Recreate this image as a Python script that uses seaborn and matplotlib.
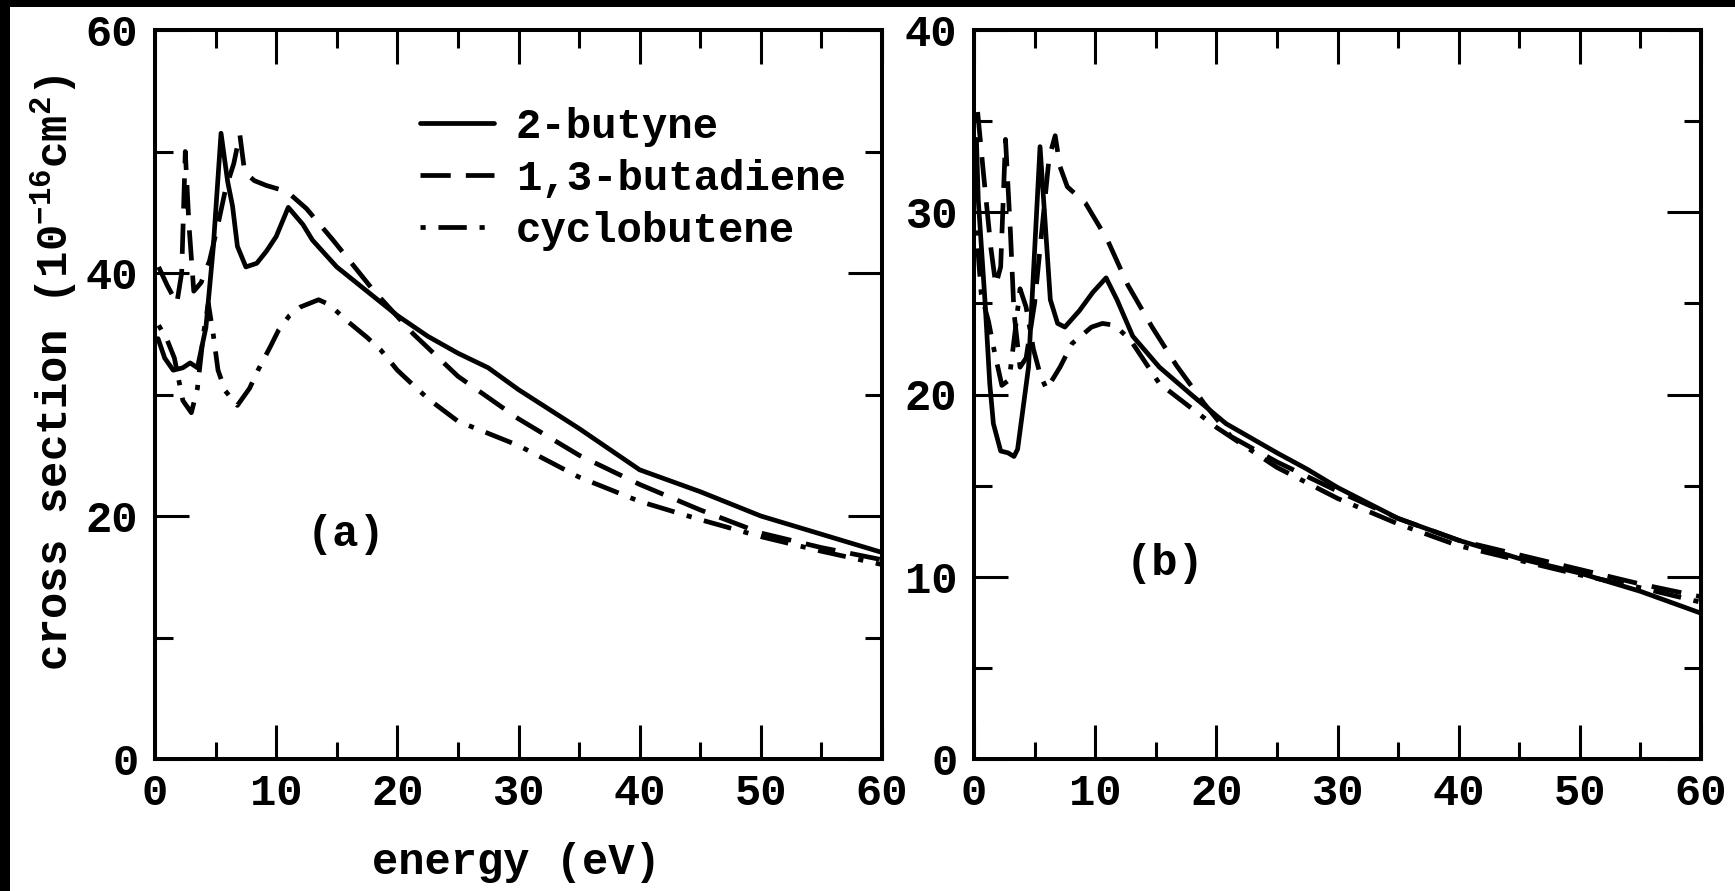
import numpy as np
import pandas as pd
import matplotlib
matplotlib.use("Agg")
import matplotlib.pyplot as plt
from matplotlib.ticker import MultipleLocator
from matplotlib.patches import Rectangle
import seaborn as sns

# ---- panel (a) data ----
a_butyne_x = [0.25, 0.8, 1.5, 2.3, 2.9, 3.5, 4.2, 4.8, 5.45, 6.0, 6.4, 6.8, 7.5, 8.4, 9.2,
              10.0, 11.0, 12.2, 13.0, 15, 17.5, 20, 22.5, 25, 27.5, 30, 35, 40, 45, 50, 55, 60]
a_butyne_y = [34.6, 33.0, 32.0, 32.2, 32.6, 32.2, 35.5, 42.0, 51.5, 47.5, 45.5, 42.2, 40.5, 40.8, 41.8,
              43.0, 45.4, 44.0, 42.7, 40.5, 38.5, 36.5, 34.8, 33.4, 32.2, 30.4, 27.2, 23.8, 22.0, 20.0, 18.5, 17.0]

a_butadiene_x = [0.3, 1.0, 1.8, 2.2, 2.5, 2.8, 3.2, 3.8, 4.5, 5.2, 5.8, 6.5, 7.0, 7.4, 8.2, 9.2,
                 10.9, 12.5, 14.7, 18, 21.3, 25, 30, 35, 40, 45, 50, 55, 60]
a_butadiene_y = [40.5, 39.0, 37.5, 40.0, 50.0, 44.0, 38.5, 39.2, 41.0, 44.0, 46.8, 49.0, 51.4, 48.3, 47.6, 47.2,
                 46.7, 45.3, 42.7, 38.6, 35.0, 31.5, 28.0, 25.0, 22.6, 20.5, 18.6, 17.4, 16.4]

a_cyclo_x = [0.3, 1.0, 1.6, 2.3, 3.0, 3.5, 4.0, 4.4, 4.8, 5.2, 5.8, 6.8, 7.8, 8.5, 9.5, 10.2,
             11.1, 12.0, 13.5, 14.4, 15.8, 17.5, 18.6, 20, 21.5, 22.6, 25, 30, 35, 40, 45, 50, 55, 60]
a_cyclo_y = [35.7, 34.5, 33.0, 29.5, 28.5, 30.5, 35.0, 37.5, 35.0, 32.0, 30.3, 29.1, 30.5, 32.0, 33.9, 35.3,
             36.5, 37.2, 37.8, 37.4, 36.1, 34.7, 33.7, 32.0, 30.6, 29.6, 27.8, 25.8, 23.2, 21.2, 19.7, 18.3, 17.1, 16.0]

# ---- panel (b) data ----
b_butyne_x = [0.2, 0.35, 0.9, 1.3, 1.6, 2.2, 2.8, 3.3, 3.6, 4.5, 5.45, 6.3, 6.9, 7.5, 8.7, 9.8,
              10.9, 11.8, 13.1, 15.3, 18.1, 20.8, 25, 27.5, 30, 35, 40, 45, 50, 55, 60]
b_butyne_y = [34.0, 30.7, 25.2, 20.6, 18.4, 16.9, 16.8, 16.6, 17.0, 21.5, 33.6, 25.2, 23.9, 23.7, 24.6, 25.6,
              26.4, 25.2, 23.2, 21.5, 19.9, 18.4, 16.8, 15.9, 14.9, 13.2, 12.0, 11.0, 10.2, 9.2, 8.0]

b_butadiene_x = [0.3, 0.8, 1.4, 1.8, 2.2, 2.6, 3.0, 3.3, 3.8, 4.3, 5.0, 5.6, 6.2, 6.7, 7.1, 7.7,
                 9.2, 11.0, 12.7, 14.7, 16.7, 19.0, 21.2, 25, 30, 35, 40, 45, 50, 55, 60]
b_butadiene_y = [35.5, 32.0, 28.0, 26.0, 27.0, 34.0, 29.0, 24.5, 21.5, 22.0, 25.0, 29.0, 33.0, 34.2, 32.5, 31.4,
                 30.5, 28.5, 26.0, 23.7, 21.6, 19.5, 17.7, 16.3, 14.7, 13.2, 12.0, 11.2, 10.4, 9.6, 8.9]

b_cyclo_x = [0.2, 0.6, 1.2, 1.7, 2.3, 2.9, 3.4, 3.8, 4.3, 4.9, 5.5, 6.0, 7.1, 8.1, 9.7, 10.6,
             11.6, 12.9, 14.0, 15.3, 20, 25, 30, 35, 40, 45, 50, 55, 60]
b_cyclo_y = [29.0, 25.5, 24.0, 22.3, 20.5, 20.8, 23.5, 25.8, 24.8, 22.5, 21.0, 20.3, 21.5, 22.8, 23.7, 23.9,
             23.8, 23.0, 21.9, 20.6, 18.2, 16.0, 14.3, 12.9, 11.7, 10.9, 10.1, 9.4, 8.6]

molecules = ["2-butyne", "1,3-butadiene", "cyclobutene"]
x_ticks = [0, 10, 20, 30, 40, 50, 60]
ya_ticks = [0, 20, 40, 60]
yb_ticks = [0, 10, 20, 30, 40]


def frame(xs, ys):
    parts = []
    for name, x, y in zip(molecules, xs, ys):
        parts.append(pd.DataFrame({"energy": x, "cs": y, "molecule": name}))
    return pd.concat(parts, ignore_index=True)


df_a = frame([a_butyne_x, a_butadiene_x, a_cyclo_x], [a_butyne_y, a_butadiene_y, a_cyclo_y])
df_b = frame([b_butyne_x, b_butadiene_x, b_cyclo_x], [b_butyne_y, b_butadiene_y, b_cyclo_y])

FS = 31.5
LEG_FS = 30.5

sns.set_theme(style="ticks")
plt.rcParams.update({
    "font.family": ["Liberation Mono", "DejaVu Sans Mono"],
    "font.weight": "bold",
    "axes.labelweight": "bold",
    "font.size": FS,
    "text.color": "black",
    "axes.labelcolor": "black",
    "xtick.color": "black",
    "ytick.color": "black",
    "mathtext.fontset": "custom",
    "mathtext.rm": "Liberation Mono:bold",
    "mathtext.it": "Liberation Mono:bold",
    "mathtext.bf": "Liberation Mono:bold",
    "mathtext.default": "rm",
    "axes.edgecolor": "black",
    "axes.linewidth": 2.9,
})

fig = plt.figure(figsize=(17.35, 8.91), dpi=100, facecolor="white")
ax_a = fig.add_axes([155 / 1735, 132 / 891, 727 / 1735, 729 / 891])
ax_b = fig.add_axes([974 / 1735, 132 / 891, 727 / 1735, 729 / 891])

palette = {m: "black" for m in molecules}
dashes = {"2-butyne": "", "1,3-butadiene": (6.4, 3.2), "cyclobutene": (1.1, 2.7, 6.0, 2.7)}

for ax, df in ((ax_a, df_a), (ax_b, df_b)):
    sns.lineplot(data=df, x="energy", y="cs", hue="molecule", style="molecule",
                 hue_order=molecules, style_order=molecules, palette=palette,
                 dashes=dashes, linewidth=3.4, estimator=None, sort=False,
                 legend=False, ax=ax)

for ax, ymax, yticks, ymin_step in ((ax_a, 60, ya_ticks, 10), (ax_b, 40, yb_ticks, 5)):
    ax.set_xlim(0, 60)
    ax.set_ylim(0, ymax)
    ax.set_xticks(x_ticks)
    ax.set_yticks(yticks)
    ax.xaxis.set_minor_locator(MultipleLocator(5))
    ax.yaxis.set_minor_locator(MultipleLocator(ymin_step))
    ax.tick_params(which="both", direction="in", top=True, right=True, color="black",
                   width=2.2, labelsize=FS, labelcolor="black")
    ax.tick_params(which="major", length=24.5)
    ax.tick_params(which="minor", length=12.6)
    ax.tick_params(axis="x", which="major", pad=10)
    ax.tick_params(axis="y", which="major", pad=12)
    for s in ax.spines.values():
        s.set_linewidth(2.9)
        s.set_color("black")
    ax.set_xlabel("")
    ax.set_ylabel("")
    ax.set_facecolor("white")

ax_a.set_xlabel("energy (eV)", fontsize=FS, fontweight="bold", color="black")
ax_a.xaxis.set_label_coords(0.497, -0.114)
ax_a.set_ylabel("cross section (10$^{-16}$cm$^{2}$)", fontsize=FS, fontweight="bold", color="black")
ax_a.yaxis.set_label_coords(-0.1035, 0.53)

ax_a.text(15.8, 18.5, "(a)", ha="center", va="center", fontsize=FS, fontweight="bold", color="black")
ax_b.text(15.8, 10.7, "(b)", ha="center", va="center", fontsize=FS, fontweight="bold", color="black")

handles = ax_a.get_lines()[:3]
leg = ax_a.legend(handles, molecules, loc="upper left", bbox_to_anchor=(0.364, 0.895),
                  frameon=False, fontsize=LEG_FS, handlelength=1.75, handletextpad=0.52,
                  labelspacing=0.29, borderpad=0, borderaxespad=0)
for t in leg.get_texts():
    t.set_color("black")

# dark strips along the top and left edges of the sheet
fig.patches.append(Rectangle((0, 0), 10 / 1735, 1, transform=fig.transFigure,
                             facecolor="black", edgecolor="none", zorder=10))
fig.patches.append(Rectangle((0, 1 - 7 / 891), 1, 7 / 891, transform=fig.transFigure,
                             facecolor="black", edgecolor="none", zorder=10))

fig.savefig("out.png", dpi=100, facecolor="white")
